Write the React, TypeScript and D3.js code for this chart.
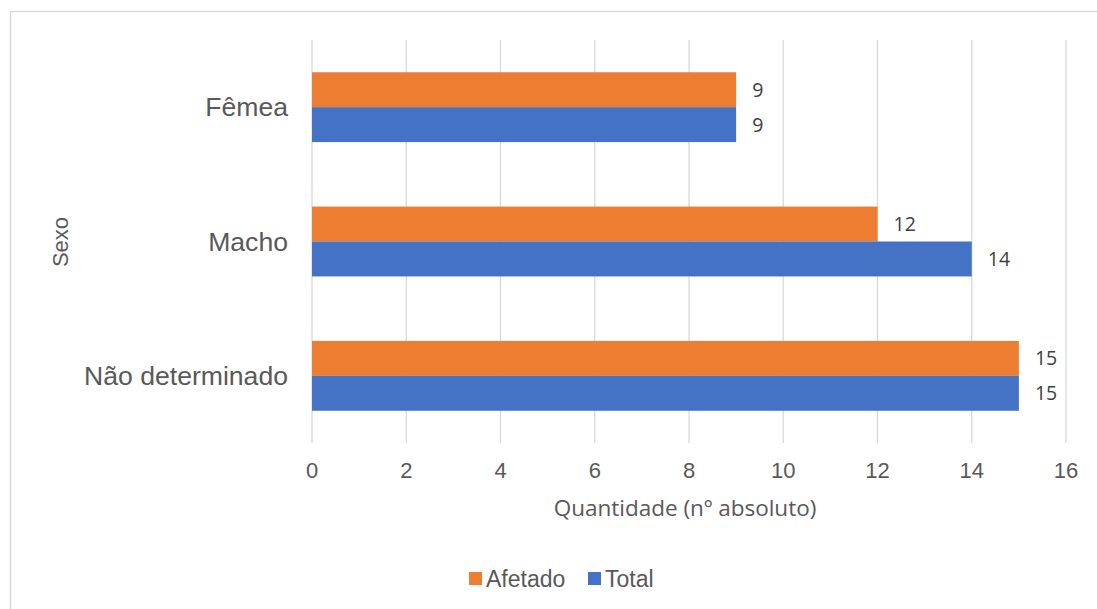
import React from "react";
import * as d3 from "d3";

const categories = ["Fêmea", "Macho", "Não determinado"];
const seriesNames = ["Afetado", "Total"];
const afetado = [9, 12, 15];
const total = [9, 14, 15];
const xTicks = [0, 2, 4, 6, 8, 10, 12, 14, 16];
const colors = ["#ED7D31", "#4472C4"];

const W = 1097;
const H = 609;

export default function App() {
  const x = d3.scaleLinear().domain([0, 16]).range([312, 1066]);
  const y = d3.scaleBand<string>().domain(categories).range([40, 443]).paddingInner(0.48).paddingOuter(0.24);
  const inner = d3.scaleBand<string>().domain(seriesNames).range([0, y.bandwidth()]);
  const values = [afetado, total];
  const txt = "#595959";
  const legendX = [469, 588];
  return (
    <svg width={W} height={H} style={{ position: "absolute", left: 0, top: 0, background: "#fff" }}>
      <rect x={10.5} y={11.5} width={W + 10} height={H + 10} fill="#fff" stroke="#d9d9d9" strokeWidth={1.5} />
      {xTicks.map((t) => (
        <line key={t} x1={x(t)} x2={x(t)} y1={40} y2={443} stroke="#d9d9d9" strokeWidth={1.3} />
      ))}
      {categories.map((c, i) =>
        seriesNames.map((s, j) => {
          const v = values[j][i];
          const yy = (y(c) as number) + (inner(s) as number);
          return (
            <g key={c + s}>
              <rect x={x(0)} y={yy} width={x(v) - x(0)} height={inner.bandwidth()} fill={colors[j]} />
              <text x={x(v) + 16} y={yy + inner.bandwidth() / 2} dy="0.36em" fontFamily="Open Sans" fontSize={19.5} fill="#404040">
                {v}
              </text>
            </g>
          );
        })
      )}
      {categories.map((c) => (
        <text key={c} x={288} y={(y(c) as number) + y.bandwidth() / 2} dy="0.35em" textAnchor="end" fontFamily="Liberation Sans" fontSize={26.6} fill={txt}>
          {c}
        </text>
      ))}
      {xTicks.map((t) => (
        <text key={"l" + t} x={x(t)} y={470} dy="0.35em" textAnchor="middle" fontFamily="Liberation Sans" fontSize={22} fill={txt}>
          {t}
        </text>
      ))}
      <text x={685} y={516} textAnchor="middle" fontFamily="Open Sans" fontSize={22.5} fill={txt}>
        Quantidade (nº absoluto)
      </text>
      <text transform="translate(60,242) rotate(-90)" dy="0.35em" textAnchor="middle" fontFamily="Liberation Sans" fontSize={22} fill={txt}>
        Sexo
      </text>
      {seriesNames.map((s, j) => (
        <g key={s}>
          <rect x={legendX[j]} y={572} width={13} height={13} fill={colors[j]} />
          <text x={legendX[j] + 17} y={579} dy="0.35em" fontFamily="Liberation Sans" fontSize={23} fill={txt}>
            {s}
          </text>
        </g>
      ))}
    </svg>
  );
}
